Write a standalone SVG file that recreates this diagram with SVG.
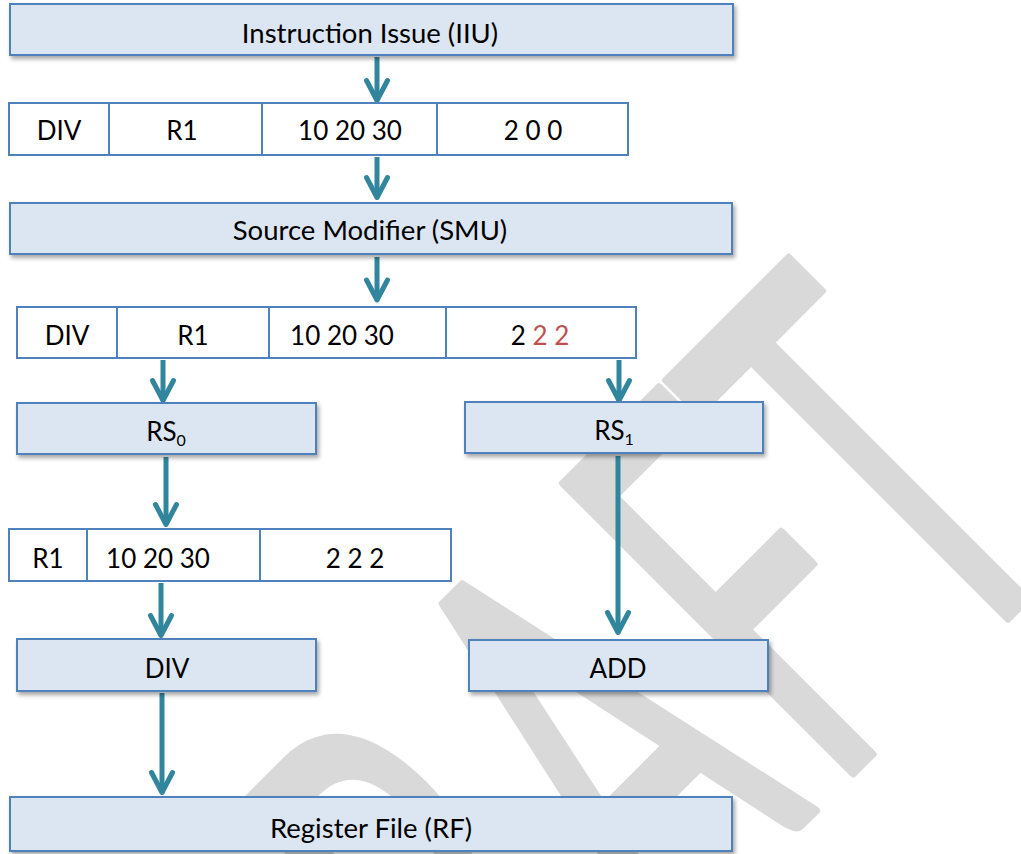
<svg xmlns="http://www.w3.org/2000/svg" width="1021" height="854" viewBox="0 0 1021 854">
  <defs>
    <style>
      .blk { fill: #dce6f2; stroke: #4f81bd; stroke-width: 2; filter: url(#shadow); }
      .rec { fill: #ffffff; stroke: #4f81bd; stroke-width: 2; }
      .div { stroke: #4f81bd; stroke-width: 2; }
      .lbl { font-family: Lato, "Liberation Sans", sans-serif; font-size: 26px; fill: #000000; text-anchor: middle; }
      .ttl { font-size: 27.5px; }
      .hot { fill: #c0504d; }
      .sub { font-size: 16px; }
      .wire { stroke: #31859c; stroke-width: 5; fill: none; marker-end: url(#head); }
      .mark { font-family: Lato, "Liberation Sans", sans-serif; font-size: 572px; fill: #d9d9d9; stroke: #d9d9d9; stroke-width: 8; stroke-linejoin: round; text-anchor: middle; }
    </style>
    <filter id="shadow" x="-5%" y="-20%" width="110%" height="160%">
      <feDropShadow dx="2" dy="3" stdDeviation="2" flood-color="#000000" flood-opacity="0.35"/>
    </filter>
    <marker id="head" markerUnits="userSpaceOnUse" viewBox="-24 -14 28 28" markerWidth="28" markerHeight="28" refX="0" refY="0" orient="auto" overflow="visible">
      <path d="M-20,-10.5 L0,0 L-20,10.5" fill="none" stroke="#31859c" stroke-width="5" stroke-linejoin="round" stroke-linecap="round"/>
    </marker>
  </defs>

  <rect width="1021" height="854" fill="#ffffff"/>

  <!-- background watermark -->
  <g id="watermark" transform="rotate(-45)">
    <text class="mark" transform="scale(0.55,1)" x="-1018 -600 -182 209 525" y="1150">DRAFT</text>
  </g>

  <!-- connectors -->
  <g id="connectors">
    <line class="wire" x1="377" y1="57" x2="377" y2="100.5"/>
    <line class="wire" x1="377" y1="157" x2="377" y2="197.5"/>
    <line class="wire" x1="377" y1="257" x2="377" y2="300"/>
    <line class="wire" x1="163" y1="360" x2="163" y2="400.5"/>
    <line class="wire" x1="619" y1="360" x2="619" y2="400.5"/>
    <line class="wire" x1="166" y1="457" x2="166" y2="524.5"/>
    <line class="wire" x1="161" y1="583" x2="161" y2="635.5"/>
    <line class="wire" x1="162" y1="693" x2="162" y2="792.5"/>
    <line class="wire" x1="618" y1="456" x2="618" y2="632.5"/>
  </g>

  <!-- issue unit -->
  <g id="iiu">
    <rect class="blk" x="10" y="4" width="723" height="51"/>
    <text class="lbl ttl" x="370" y="43">Instruction Issue (IIU)</text>
  </g>

  <!-- issued instruction record -->
  <g id="instr-issued">
    <rect class="rec" x="9" y="103" width="619" height="52"/>
    <line class="div" x1="109" y1="103" x2="109" y2="155"/>
    <line class="div" x1="262" y1="103" x2="262" y2="155"/>
    <line class="div" x1="437" y1="103" x2="437" y2="155"/>
    <text class="lbl" x="59" y="140">DIV</text>
    <text class="lbl" x="182" y="140">R1</text>
    <text class="lbl" x="350" y="140">10 20 30</text>
    <text class="lbl" x="533" y="140">2 0 0</text>
  </g>

  <!-- source modifier -->
  <g id="smu">
    <rect class="blk" x="10" y="203" width="722" height="51"/>
    <text class="lbl ttl" x="370" y="240">Source Modifier (SMU)</text>
  </g>

  <!-- modified instruction record -->
  <g id="instr-modified">
    <rect class="rec" x="17" y="307" width="619" height="51"/>
    <line class="div" x1="117" y1="307" x2="117" y2="358"/>
    <line class="div" x1="269" y1="307" x2="269" y2="358"/>
    <line class="div" x1="446" y1="307" x2="446" y2="358"/>
    <text class="lbl" x="67" y="345">DIV</text>
    <text class="lbl" x="193" y="345">R1</text>
    <text class="lbl" x="342" y="345">10 20 30</text>
    <text class="lbl" x="540" y="345">2 <tspan class="hot">2 2</tspan></text>
  </g>

  <!-- reservation station 0 -->
  <g id="rs0">
    <rect class="blk" x="17" y="403" width="299" height="51"/>
    <text class="lbl" x="166" y="441">RS<tspan class="sub" dy="5">0</tspan></text>
  </g>

  <!-- reservation station 1 -->
  <g id="rs1">
    <rect class="blk" x="465" y="402" width="298" height="51"/>
    <text class="lbl" x="614" y="440">RS<tspan class="sub" dy="5">1</tspan></text>
  </g>

  <!-- dispatched record -->
  <g id="instr-dispatched">
    <rect class="rec" x="9" y="529" width="442" height="52"/>
    <line class="div" x1="87" y1="529" x2="87" y2="581"/>
    <line class="div" x1="260" y1="529" x2="260" y2="581"/>
    <text class="lbl" x="48" y="568">R1</text>
    <text class="lbl" x="158" y="568">10 20 30</text>
    <text class="lbl" x="355" y="568">2 2 2</text>
  </g>

  <!-- divide unit -->
  <g id="div-unit">
    <rect class="blk" x="17" y="639" width="299" height="52"/>
    <text class="lbl" x="167" y="678">DIV</text>
  </g>

  <!-- add unit -->
  <g id="add-unit">
    <rect class="blk" x="469" y="640" width="299" height="51"/>
    <text class="lbl" x="618" y="678">ADD</text>
  </g>

  <!-- register file -->
  <g id="rf">
    <rect class="blk" x="10" y="797" width="722" height="54"/>
    <text class="lbl ttl" x="371" y="838">Register File (RF)</text>
  </g>
</svg>
